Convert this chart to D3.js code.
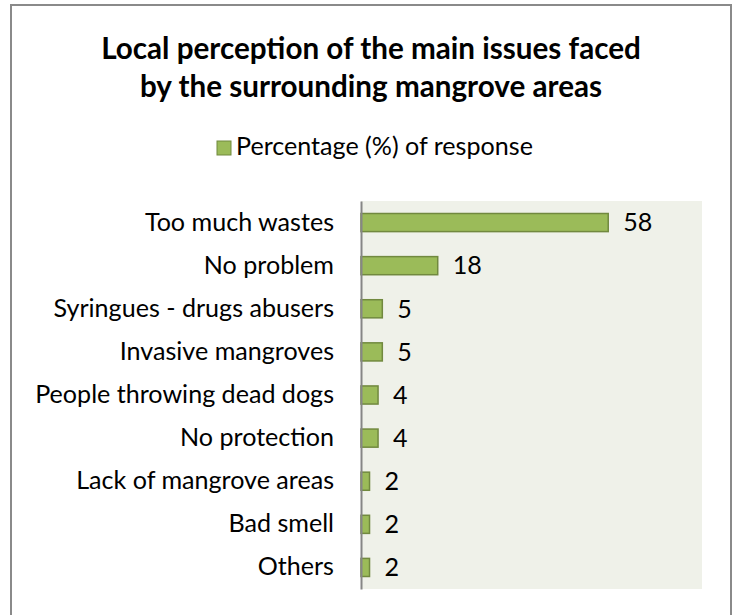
<!DOCTYPE html>
<html>
<head>
<meta charset="utf-8">
<script src="https://cdn.jsdelivr.net/npm/d3@7/dist/d3.min.js"></script>
<style>
  html, body { margin: 0; padding: 0; background: #ffffff; }
  svg { display: block; }
</style>
</head>
<body>
<svg id="chart" width="737" height="615"></svg>
<script>
// Survey answers, top to bottom
const categories = [
  "Too much wastes",
  "No problem",
  "Syringues - drugs abusers",
  "Invasive mangroves",
  "People throwing dead dogs",
  "No protection",
  "Lack of mangrove areas",
  "Bad smell",
  "Others"
];
const values = [58, 18, 5, 5, 4, 4, 2, 2, 2];
const seriesName = "Percentage (%) of response";
const titleLines = [
  "Local perception of the main issues faced",
  "by the surrounding mangrove areas"
];

const FONT = "Lato, 'Open Sans', 'DejaVu Sans', sans-serif";
const barFill = "#9bbb59";
const barStroke = "#71893f";

const svg = d3.select("#chart");

// Fit a text element's font size so it spans a given width
function fitWidth(sel, target) {
  const node = sel.node();
  const fs = parseFloat(sel.attr("font-size"));
  const w = node.getComputedTextLength();
  if (w > 0) sel.attr("font-size", fs * target / w);
  return sel;
}

// Chart frame
svg.append("rect")
  .attr("x", 11).attr("y", 5)
  .attr("width", 720).attr("height", 620)
  .attr("fill", "#ffffff")
  .attr("stroke", "#8a8a8a")
  .attr("stroke-width", 2);

// Title
const t1 = svg.append("text")
  .attr("x", 371).attr("y", 59)
  .attr("text-anchor", "middle")
  .attr("font-family", FONT).attr("font-weight", "bold")
  .attr("font-size", 26).attr("fill", "#000")
  .text(titleLines[0]);
fitWidth(t1, 540);
const titleSize = parseFloat(t1.attr("font-size"));
svg.append("text")
  .attr("x", 371).attr("y", 97)
  .attr("text-anchor", "middle")
  .attr("font-family", FONT).attr("font-weight", "bold")
  .attr("font-size", titleSize).attr("fill", "#000")
  .text(titleLines[1]);

// Legend
svg.append("rect")
  .attr("x", 217).attr("y", 141)
  .attr("width", 14).attr("height", 14)
  .attr("fill", barFill).attr("stroke", barStroke).attr("stroke-width", 1);
const lg = svg.append("text")
  .attr("x", 236).attr("y", 155)
  .attr("font-family", FONT).attr("font-size", 20).attr("fill", "#000")
  .text(seriesName);
fitWidth(lg, 297);
const bodySize = parseFloat(lg.attr("font-size"));

// Plot area
const plot = { left: 361, right: 702, top: 201, bottom: 589 };

const x = d3.scaleLinear().domain([0, 80]).range([plot.left, plot.right]);
const y = d3.scaleBand()
  .domain(categories)
  .range([plot.top, plot.bottom])
  .paddingInner(0.58)
  .paddingOuter(0.29);

svg.append("rect")
  .attr("x", plot.left).attr("y", plot.top)
  .attr("width", plot.right - plot.left)
  .attr("height", plot.bottom - plot.top)
  .attr("fill", "#eff1e9");

// Bars
const data = categories.map((c, i) => ({ c, v: values[i] }));
svg.append("g").selectAll("rect")
  .data(data)
  .join("rect")
  .attr("x", x(0))
  .attr("y", d => y(d.c))
  .attr("width", d => x(d.v) - x(0))
  .attr("height", y.bandwidth())
  .attr("fill", barFill)
  .attr("stroke", barStroke)
  .attr("stroke-width", 1.5);

// Value labels
svg.append("g").selectAll("text")
  .data(data)
  .join("text")
  .attr("x", d => x(d.v) + 15)
  .attr("y", d => y(d.c) + y.bandwidth() / 2)
  .attr("dy", "0.35em")
  .attr("font-family", FONT).attr("font-size", bodySize).attr("fill", "#000")
  .text(d => d.v);

// Category axis
const yAxis = svg.append("g")
  .attr("transform", `translate(${plot.left},0)`)
  .call(d3.axisLeft(y).tickSize(0).tickPadding(27));
yAxis.select(".domain").attr("stroke", "#868686").attr("stroke-width", 2);
yAxis.selectAll(".tick text")
  .attr("font-family", FONT).attr("font-size", bodySize).attr("fill", "#000");
</script>
</body>
</html>
